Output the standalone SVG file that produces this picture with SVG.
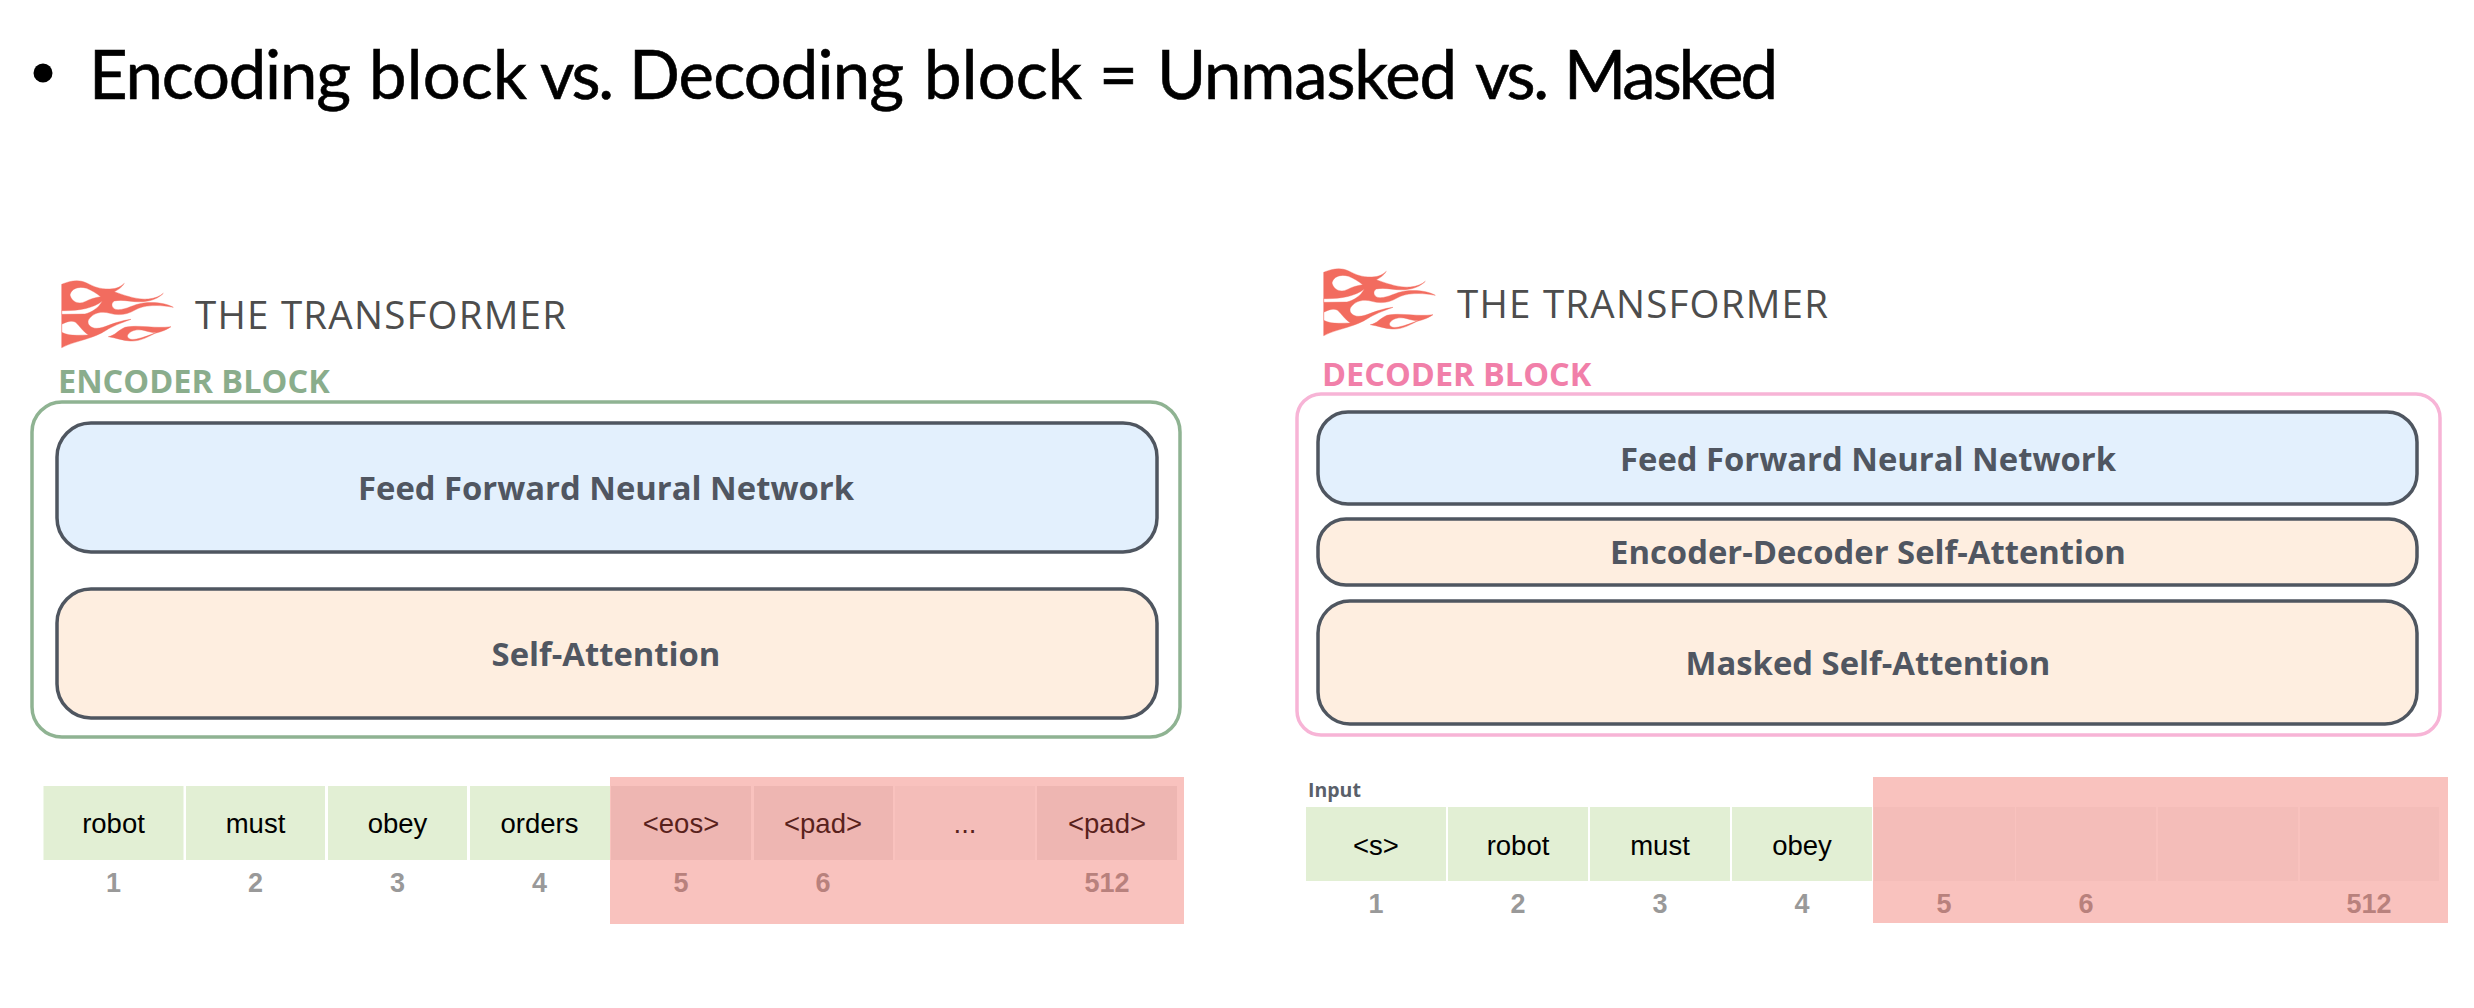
<svg xmlns="http://www.w3.org/2000/svg" width="2474" height="1008" viewBox="0 0 2474 1008">
<style>
text{font-family:"Open Sans","Noto Sans",sans-serif}
.title{font-family:Lato,"Noto Sans",sans-serif;font-size:67px;fill:#000;stroke:#000;stroke-width:.6}
.brand{font-size:38.5px;font-weight:500;fill:#4d4d4d}
.tag{font-size:32.5px;font-weight:700}
.lbl{font-size:32.8px;font-weight:700;fill:#505661;text-anchor:middle}
.box{stroke:#4f5660;stroke-width:3.5}
.blue{fill:#e3f0fd}
.peach{fill:#feeee0}
.word{font-family:"Liberation Sans",Arial,sans-serif;font-size:27.5px;fill:#000;text-anchor:middle}
.num{font-family:"Liberation Sans",Arial,sans-serif;font-size:27px;font-weight:700;fill:#999;text-anchor:middle}
.g{fill:#e2efd4}
.c{fill:#eeeded}
.l{fill:#f7f7f7}
.mask{fill:#f05a50;fill-opacity:.37}
.flame{fill:#f26c5f;fill-rule:evenodd;stroke:#f26c5f;stroke-width:1.2;stroke-linejoin:round}
</style>
<defs>
<path id="flame" class="flame" transform="scale(.3333)" d="M20 28C45 18 70 12 95 24C120 36 130 42 165 42C185 42 198 35 208 25C200 38 190 44 178 50C205 60 245 75 280 72C300 70 315 64 325 55C310 70 290 78 265 80C235 83 205 72 178 78C165 85 170 105 190 104C215 104 235 88 265 84C300 80 335 85 355 97C310 88 265 90 240 105C215 120 190 122 165 115C140 108 115 112 100 135C95 150 110 160 125 160C150 160 175 140 228 133C195 145 170 155 155 165C135 178 115 185 100 190C70 200 45 205 20 218ZM45 60C48 42 70 32 95 40C110 46 125 55 137 65C120 68 105 72 90 80C70 90 50 80 45 60ZM20 107C70 108 115 100 142 78C130 100 110 112 90 117L20 118ZM20 148C35 140 50 135 62 142C75 155 85 170 100 180C75 180 45 185 20 172ZM160 185C180 182 190 165 210 157C250 148 300 162 348 155C330 168 310 172 300 175C280 185 255 200 225 198C205 197 180 188 160 185ZM217 183C222 168 245 160 270 167C285 172 295 173 305 172C285 180 265 188 245 192C230 195 218 193 217 183Z"/>
</defs>
<rect width="2474" height="1008" fill="#fff"/>
<g id="title">
<circle cx="43" cy="73" r="9.5" fill="#000"/>
<text class="title" y="99"><tspan x="89" textLength="262">Encoding</tspan> <tspan x="369" textLength="158">block</tspan> <tspan x="540" textLength="74">vs.</tspan> <tspan x="629" textLength="275">Decoding</tspan> <tspan x="924" textLength="158">block</tspan> <tspan x="1099" textLength="38">=</tspan> <tspan x="1157" textLength="300">Unmasked</tspan> <tspan x="1475" textLength="74">vs.</tspan> <tspan x="1564" textLength="214">Masked</tspan></text>
</g>
<g id="encoder">
<use href="#flame" transform="translate(55,275)"/>
<text class="brand" x="195" y="329" textLength="371">THE TRANSFORMER</text>
<text class="tag" x="58" y="393" fill="#8aad8c">ENCODER BLOCK</text>
<rect x="32" y="402" width="1148" height="335" rx="30" fill="#fff" stroke="#8fb392" stroke-width="3.5"/>
<g id="enc-ffn"><rect class="box blue" x="57" y="423" width="1100" height="129" rx="34"/><text class="lbl" x="606" y="500">Feed Forward Neural Network</text></g>
<g id="enc-sa"><rect class="box peach" x="57" y="589" width="1100" height="129" rx="34"/><text class="lbl" x="606" y="666">Self-Attention</text></g>
</g>
<g id="encoder-input">
<rect class="g" x="43.500" y="786" width="140" height="74"/><rect class="g" x="186" y="786" width="139" height="74"/><rect class="g" x="328" y="786" width="139" height="74"/><rect class="g" x="470" y="786" width="140" height="74"/>
<rect class="c" x="611" y="786" width="140" height="74"/><rect class="c" x="754" y="786" width="139" height="74"/><rect class="l" x="895" y="786" width="140" height="74"/><rect class="c" x="1037" y="786" width="140" height="74"/>
<text class="word" x="113.500" y="833">robot</text><text class="word" x="255.500" y="833">must</text><text class="word" x="397.500" y="833">obey</text><text class="word" x="539.500" y="833">orders</text>
<text class="word" x="681" y="833">&lt;eos&gt;</text><text class="word" x="823" y="833">&lt;pad&gt;</text><text class="word" x="965" y="833">...</text><text class="word" x="1107" y="833">&lt;pad&gt;</text>
<text class="num" x="113.500" y="892">1</text><text class="num" x="255.500" y="892">2</text><text class="num" x="397.500" y="892">3</text><text class="num" x="539.500" y="892">4</text><text class="num" x="681" y="892">5</text><text class="num" x="823" y="892">6</text><text class="num" x="1107" y="892">512</text>
<rect class="mask" x="610" y="777" width="574" height="147"/>
</g>
<g id="decoder">
<use href="#flame" transform="translate(1317,263)"/>
<text class="brand" x="1457" y="318" textLength="371">THE TRANSFORMER</text>
<text class="tag" x="1322" y="386" fill="#f17fa9">DECODER BLOCK</text>
<rect x="1297" y="394" width="1143" height="341" rx="24" fill="#fff" stroke="#f7b4d6" stroke-width="3.5"/>
<g id="dec-ffn"><rect class="box blue" x="1318" y="412" width="1099" height="92" rx="30"/><text class="lbl" x="1868" y="471">Feed Forward Neural Network</text></g>
<g id="dec-eda"><rect class="box peach" x="1318" y="519" width="1099" height="66" rx="28"/><text class="lbl" x="1868" y="564">Encoder-Decoder Self-Attention</text></g>
<g id="dec-msa"><rect class="box peach" x="1318" y="601" width="1099" height="123" rx="32"/><text class="lbl" x="1868" y="675">Masked Self-Attention</text></g>
</g>
<g id="decoder-input">
<text x="1308" y="797" font-size="19.500" font-weight="700" fill="#5a606a">Input</text>
<rect class="g" x="1306" y="807" width="140" height="74"/><rect class="g" x="1448" y="807" width="140" height="74"/><rect class="g" x="1590" y="807" width="140" height="74"/><rect class="g" x="1732" y="807" width="140" height="74"/>
<rect class="l" x="1874" y="807" width="141" height="74"/><rect class="l" x="2016" y="807" width="140" height="74"/><rect class="l" x="2158" y="807" width="140" height="74"/><rect class="l" x="2300" y="807" width="139" height="74"/>
<text class="word" x="1376" y="855">&lt;s&gt;</text><text class="word" x="1518" y="855">robot</text><text class="word" x="1660" y="855">must</text><text class="word" x="1802" y="855">obey</text>
<text class="num" x="1376" y="913">1</text><text class="num" x="1518" y="913">2</text><text class="num" x="1660" y="913">3</text><text class="num" x="1802" y="913">4</text><text class="num" x="1944" y="913">5</text><text class="num" x="2086" y="913">6</text><text class="num" x="2369" y="913">512</text>
<rect class="mask" x="1873" y="777" width="575" height="146"/>
</g>
</svg>
